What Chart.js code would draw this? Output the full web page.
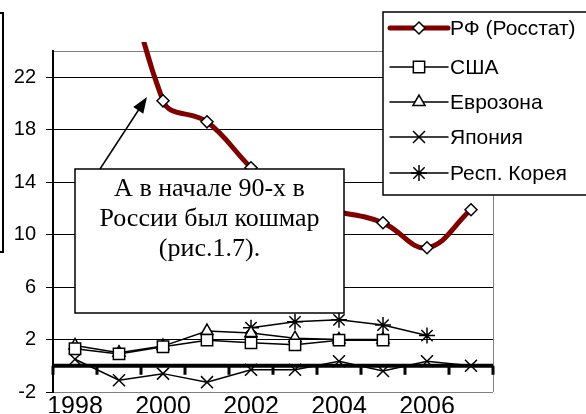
<!DOCTYPE html>
<html><head><meta charset="utf-8">
<script src="https://cdn.jsdelivr.net/npm/chart.js@4.4.1/dist/chart.umd.min.js"></script>
<style>html,body{margin:0;padding:0;background:#fff;overflow:hidden}#wrap{width:586px;height:414px;position:relative}</style>
</head><body><div id="wrap"><canvas id="c" width="586" height="414"></canvas></div>
<script>
// ---- data ----
const years = ['1998','1999','2000','2001','2002','2003','2004','2005','2006','2007'];
const xTickLabels = ['1998','2000','2002','2004','2006'];
const yTickValues = [-2, 2, 6, 10, 14, 18, 22];
const yMin = -2, yMax = 24, yStep = 4;
const seriesNames = ['РФ (Росстат)', 'США', 'Еврозона', 'Япония', 'Респ. Корея'];
const russia = [84.4, 36.5, 20.2, 18.6, 15.1, 12.0, 11.7, 10.9, 9.0, 11.9];
const usa    = [1.3, 0.9, 1.45, 1.95, 1.75, 1.6, 1.95, 1.95, null, null];
const euro   = [1.55, 1.0, 1.5, 2.65, 2.5, 2.1, 2.0, 2.0, null, null];
const japan  = [0.5, -1.1, -0.6, -1.25, -0.3, -0.3, 0.35, -0.4, 0.35, 0.0];
const korea  = [null, null, null, null, 2.9, 3.35, 3.5, 3.1, 2.3, null];
const calloutLines = ['А в начале 90-х в', 'России был кошмар', '(рис.1.7).'];

const SANS = '"Liberation Sans", Arial, sans-serif';
const SERIF = '"Liberation Serif", "Times New Roman", serif';

function mk(label, data, color, width, style, radius, extra) {
  return Object.assign({
    label, data, borderColor: color, borderWidth: width, backgroundColor: color,
    pointStyle: style, pointRadius: radius, pointHoverRadius: radius,
    pointBackgroundColor: '#fff', pointBorderColor: '#000', pointBorderWidth: 1.5,
    tension: 0, spanGaps: false, fill: false
  }, extra || {});
}

const datasets = [
  mk(seriesNames[0], russia, '#800000', 5, 'rectRot', 6, {tension: 0.4, clip: {left: 0, top: 9, right: 0, bottom: 0}}),
  mk(seriesNames[1], usa, '#000', 1.5, 'rect', 8),
  mk(seriesNames[2], euro, '#000', 1.5, 'triangle', 7),
  mk(seriesNames[3], japan, '#000', 1.5, 'crossRot', 8.5),
  mk(seriesNames[4], korea, '#000', 1.5, 'star', 8)
];

function marker(ctx, style, x, y, r) {
  ctx.save();
  ctx.fillStyle = '#fff'; ctx.strokeStyle = '#000'; ctx.lineWidth = 1.5;
  ctx.beginPath();
  if (style === 'rectRot') {
    ctx.moveTo(x, y - r); ctx.lineTo(x + r, y); ctx.lineTo(x, y + r); ctx.lineTo(x - r, y); ctx.closePath();
    ctx.fill(); ctx.stroke();
  } else if (style === 'rect') {
    const s = r * Math.SQRT1_2;
    ctx.rect(x - s, y - s, 2 * s, 2 * s); ctx.fill(); ctx.stroke();
  } else if (style === 'triangle') {
    ctx.moveTo(x, y - r);
    ctx.lineTo(x + r * Math.sin(2 * Math.PI / 3), y - r * Math.cos(2 * Math.PI / 3));
    ctx.lineTo(x + r * Math.sin(4 * Math.PI / 3), y - r * Math.cos(4 * Math.PI / 3));
    ctx.closePath(); ctx.fill(); ctx.stroke();
  } else {
    const d = r * Math.SQRT1_2;
    ctx.moveTo(x - d, y - d); ctx.lineTo(x + d, y + d);
    ctx.moveTo(x - d, y + d); ctx.lineTo(x + d, y - d);
    if (style === 'star') { ctx.moveTo(x, y - r); ctx.lineTo(x, y + r); ctx.moveTo(x - r, y); ctx.lineTo(x + r, y); }
    ctx.stroke();
  }
  ctx.restore();
}

const decor = {
  id: 'decor',
  beforeDatasetsDraw(chart) {
    const {ctx, chartArea: a, scales: {x, y}} = chart;
    ctx.save();
    ctx.strokeStyle = '#808080'; ctx.lineWidth = 1;
    ctx.beginPath(); ctx.moveTo(a.right + 0.5, a.top); ctx.lineTo(a.right + 0.5, a.bottom); ctx.stroke();
    const y0 = y.getPixelForValue(0);
    ctx.strokeStyle = '#000'; ctx.lineWidth = 4;
    ctx.beginPath(); ctx.moveTo(a.left, y0); ctx.lineTo(a.right, y0); ctx.stroke();
    ctx.lineWidth = 3;
    for (let i = 0; i <= years.length; i++) {
      const px = x.getPixelForValue(i - 0.5);
      ctx.beginPath(); ctx.moveTo(px, y0); ctx.lineTo(px, y0 + 9); ctx.stroke();
    }
    ctx.restore();
  },
  afterDraw(chart) {
    const {ctx} = chart;
    ctx.save();
    ctx.strokeStyle = '#000'; ctx.lineWidth = 2;
    ctx.strokeRect(-20, 13, 23, 239);
    // callout box
    const bx = 75, by = 169, bw = 269, bh = 144;
    ctx.fillStyle = '#fff'; ctx.fillRect(bx, by, bw, bh);
    ctx.lineWidth = 1.5; ctx.strokeRect(bx, by, bw, bh);
    ctx.fillStyle = '#000'; ctx.font = '26px ' + SERIF; ctx.textAlign = 'center'; ctx.textBaseline = 'middle';
    calloutLines.forEach((t, i) => ctx.fillText(t, bx + bw / 2, 189 + i * 30));
    // arrow
    const x1 = 100, y1 = by, x2 = 147, y2 = 97;
    const ang = Math.atan2(y2 - y1, x2 - x1), L = 16, W = 6;
    ctx.lineWidth = 1.5;
    ctx.beginPath(); ctx.moveTo(x1, y1); ctx.lineTo(x2 - L * 0.8 * Math.cos(ang), y2 - L * 0.8 * Math.sin(ang)); ctx.stroke();
    ctx.beginPath();
    ctx.moveTo(x2, y2);
    ctx.lineTo(x2 - L * Math.cos(ang) + W * Math.sin(ang), y2 - L * Math.sin(ang) - W * Math.cos(ang));
    ctx.lineTo(x2 - L * Math.cos(ang) - W * Math.sin(ang), y2 - L * Math.sin(ang) + W * Math.cos(ang));
    ctx.closePath(); ctx.fill();
    // legend
    const lx = 383, ly = 12, lw = 230, lh = 183;
    ctx.fillStyle = '#fff'; ctx.fillRect(lx, ly, lw, lh);
    ctx.strokeStyle = '#000'; ctx.lineWidth = 1.5; ctx.strokeRect(lx, ly, lw, lh);
    const rows = [28, 67, 102, 137, 173];
    chart.data.datasets.forEach((ds, i) => {
      const ry = rows[i];
      ctx.strokeStyle = ds.borderColor; ctx.lineWidth = ds.borderWidth; ctx.lineCap = 'round';
      ctx.beginPath(); ctx.moveTo(390, ry); ctx.lineTo(448, ry); ctx.stroke();
      ctx.lineCap = 'butt';
      marker(ctx, ds.pointStyle, 419, ry, ds.pointRadius);
      ctx.fillStyle = '#000'; ctx.font = '21px ' + SANS; ctx.textAlign = 'left'; ctx.textBaseline = 'middle';
      ctx.fillText(ds.label, 450, ry + 1);
    });
    ctx.restore();
  }
};

new Chart(document.getElementById('c'), {
  type: 'line',
  data: {labels: years, datasets},
  options: {
    responsive: false, animation: false, devicePixelRatio: 1,
    layout: {padding: {left: 0, top: 51, right: 93, bottom: 0}},
    elements: {line: {capBezierPoints: false}},
    plugins: {legend: {display: false}, tooltip: {enabled: false}},
    scales: {
      x: {
        type: 'category', offset: true,
        grid: {display: false, drawTicks: false, offset: true},
        border: {display: false},
        ticks: {
          autoSkip: false, maxRotation: 0, padding: 0, color: '#000',
          font: {family: SANS, size: 25},
          callback: (v, i) => xTickLabels.includes(years[i]) ? years[i] : ''
        },
        afterFit: s => { s.height = 21; }
      },
      y: {
        min: yMin, max: yMax,
        afterBuildTicks: s => { s.ticks = yTickValues.concat([yMax]).map(v => ({value: v})); },
        grid: {
          color: c => (c.tick && (c.tick.value === yMax || c.tick.value === yMin)) ? '#808080' : '#000',
          tickColor: c => (c.tick && c.tick.value === yMax) ? 'rgba(0,0,0,0)' : '#000',
          lineWidth: 1, tickLength: 7, drawTicks: true
        },
        border: {display: true, color: '#000', width: 2},
        ticks: {
          color: '#000', padding: 10, font: {family: SANS, size: 20},
          callback: v => yTickValues.includes(v) ? String(v) : ''
        },
        afterFit: s => { s.width = 53; }
      }
    }
  },
  plugins: [decor]
});
</script>
</body></html>
